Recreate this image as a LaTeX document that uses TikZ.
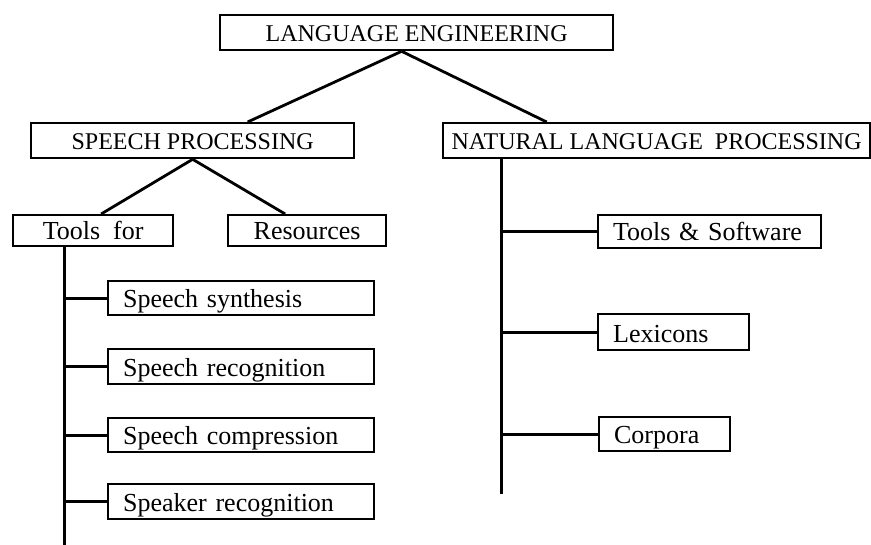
\documentclass[tikz,border=0pt]{standalone}
\usepackage{fontspec}
\setmainfont{Liberation Serif}
\begin{document}
\begin{tikzpicture}[x=1pt,y=-1pt,
  box/.style={draw, line width=2.3pt, inner ysep=0pt, anchor=north west},
  capsbox/.style={box, inner xsep=0pt, font=\fontsize{24}{28}\selectfont, text depth=9pt},
  midbox/.style={box, inner xsep=0pt, font=\fontsize{26}{30}\selectfont, text depth=7pt},
  leafbox/.style={box, inner xsep=15pt, align=left, font=\fontsize{26}{30}\selectfont, text depth=8pt},
  link/.style={line width=2.8pt}]
\useasboundingbox (0,0) rectangle (871,545);

% top level
\node[capsbox, minimum width=393pt, text height=26pt] (le) at (219,14) {LANGUAGE ENGINEERING};

% second level
\node[capsbox, minimum width=323pt, text height=26pt] (sp) at (30,122) {SPEECH PROCESSING};
\node[capsbox, minimum width=427pt, text height=26pt] (nlp) at (442,122) {NATURAL LANGUAGE\ \ PROCESSING};

% speech processing branches
\node[midbox, minimum width=160pt, text height=24pt] (tf) at (12,214) {Tools\ \ for};
\node[midbox, minimum width=158pt, text height=24pt] (res) at (227,214) {Resources};

% speech tools
\node[leafbox, text width=236pt, text height=26pt] (ss) at (107,280) {Speech synthesis};
\node[leafbox, text width=236pt, text height=27pt] (sr) at (107,348) {Speech recognition};
\node[leafbox, text width=236pt, text height=26pt] (sc) at (107,417) {Speech compression};
\node[leafbox, text width=236pt, text height=27pt] (spk) at (107,483) {Speaker recognition};

% NLP items
\node[leafbox, text width=193pt, text height=25pt] (ts) at (597,214) {Tools \& Software};
\node[leafbox, text width=121pt, text height=28pt] (lex) at (597,313) {Lexicons};
\node[leafbox, text width=101pt, text height=26pt] (cor) at (598,416) {Corpora};

% tree connectors
\coordinate (apex) at ([xshift=-15]le.south);
\draw[link] (apex) -- ([xshift=55]sp.north);
\draw[link] (apex) -- ([xshift=-110]nlp.north);
\draw[link] (sp.south) -- ([xshift=8]tf.north);
\draw[link] (sp.south) -- ([xshift=-22]res.north);

% vertical spines
\coordinate (tfb) at ([xshift=-29]tf.south);
\path (tfb) ++(0,298) coordinate (tfend);
\draw[link] (tfb) -- (tfend);
\coordinate (nlpb) at ([xshift=-155]nlp.south);
\path (nlpb) ++(0,335) coordinate (nlpend);
\draw[link] (nlpb) -- (nlpend);

% horizontal branches
\foreach \n in {ss,sr,sc,spk} {\draw[link] (\n.west) -- (\n.west -| tfb);}
\foreach \n in {ts,lex,cor} {\draw[link] (\n.west) -- (\n.west -| nlpb);}
\end{tikzpicture}
\end{document}
